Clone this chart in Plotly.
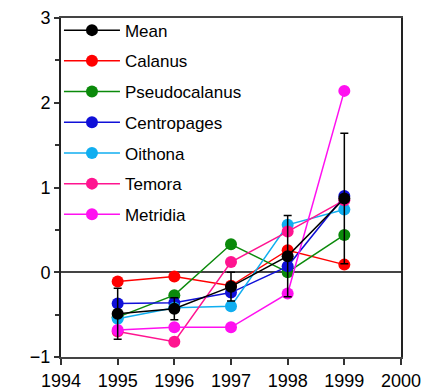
import plotly.graph_objects as go

years = [1995, 1996, 1997, 1998, 1999]
calanus = [-0.11, -0.05, -0.16, 0.26, 0.09]
pseudocalanus = [-0.53, -0.27, 0.33, 0.00, 0.44]
centropages = [-0.37, -0.36, -0.24, 0.07, 0.90]
oithona = [-0.55, -0.42, -0.40, 0.56, 0.74]
temora = [-0.70, -0.82, 0.12, 0.48, 0.85]
metridia = [-0.68, -0.65, -0.65, -0.25, 2.14]
mean = [-0.49, -0.43, -0.17, 0.19, 0.87]
mean_err = [0.30, 0.13, 0.17, 0.48, 0.77]

series = [
    ("Calanus", calanus, "#ff0000"),
    ("Pseudocalanus", pseudocalanus, "#0b8a0b"),
    ("Centropages", centropages, "#1010d8"),
    ("Oithona", oithona, "#10aef0"),
    ("Temora", temora, "#ff1490"),
    ("Metridia", metridia, "#ff10f0"),
]

fig = go.Figure()
for i, (name, vals, col) in enumerate(series):
    fig.add_trace(go.Scatter(
        x=years, y=vals, name=name, mode="lines+markers",
        line=dict(color=col, width=1.5),
        marker=dict(color=col, size=12),
        legendgroup=name, legendrank=i + 2,
    ))
fig.add_trace(go.Scatter(
    x=years, y=mean, name="Mean", mode="lines+markers",
    line=dict(color="black", width=1.5),
    marker=dict(color="black", size=12),
    error_y=dict(type="data", array=mean_err, color="black", thickness=1.5, width=4),
    legendgroup="Mean", legendrank=1,
))

# page body has an 8px default margin, so the figure is 8px smaller and shifted
fig.update_layout(
    width=421, height=383,
    margin=dict(l=53, r=28, t=10, b=34, autoexpand=False),
    plot_bgcolor="white", paper_bgcolor="white",
    font=dict(family="Liberation Sans, Arial, sans-serif", color="black"),
    showlegend=True,
    legend=dict(x=-0.006, y=1.016, xanchor="left", yanchor="top", maxheight=360,
                bgcolor="rgba(0,0,0,0)", font=dict(size=17),
                traceorder="grouped", tracegroupgap=5.6, itemwidth=56),
    xaxis=dict(range=[1994, 2000], tickmode="array", automargin=False,
               tickvals=[1994, 1995, 1996, 1997, 1998, 1999, 2000],
               ticks="outside", ticklen=6, tickwidth=1.5, tickcolor="#333",
               ticklabeloverflow="allow",
               showline=True, linecolor="#444", linewidth=2, mirror=True,
               showgrid=False, zeroline=False, tickfont=dict(size=18)),
    yaxis=dict(range=[-1, 3], tickmode="array", tickvals=[-1, 0, 1, 2, 3], automargin=False,
               ticks="outside", ticklen=5, tickwidth=1.5, tickcolor="#333",
               ticklabeloverflow="allow",
               minor=dict(tickvals=[-0.5, 0.5, 1.5, 2.5], ticks="outside", ticklen=4, tickcolor="#333"),
               showline=True, linecolor="#222", linewidth=2, mirror=True,
               showgrid=False, zeroline=True, zerolinecolor="#444", zerolinewidth=1.5,
               tickfont=dict(size=18)),
)

fig.write_html("out.html")
